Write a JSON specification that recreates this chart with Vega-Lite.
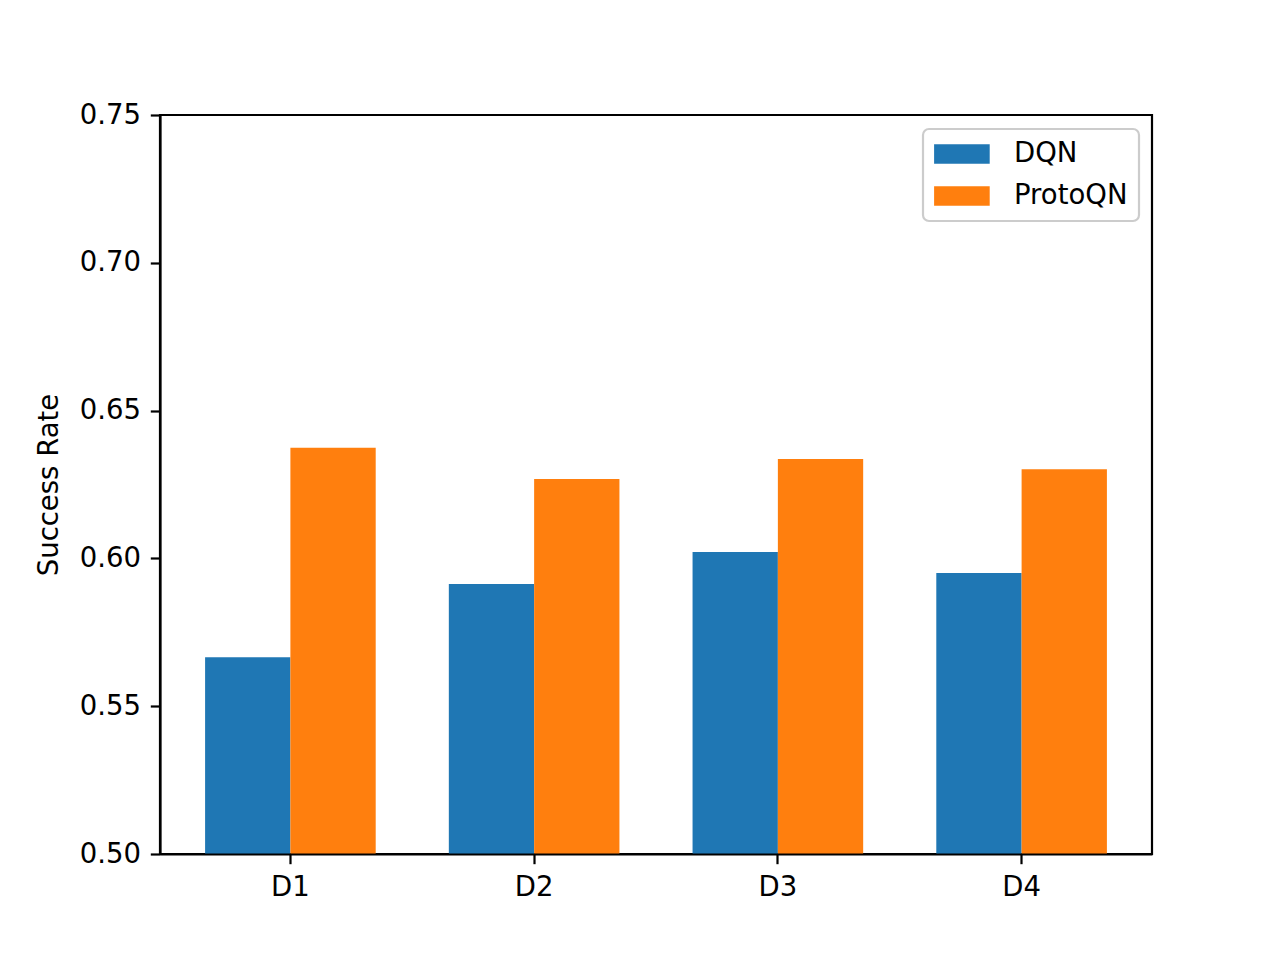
{
  "$schema": "https://vega.github.io/schema/vega-lite/v6.json",
  "width": 992,
  "height": 739,
  "autosize": {"type": "none"},
  "padding": {"left": 160, "top": 115, "right": 128, "bottom": 106},
  "background": "white",
  "config": {
    "font": "DejaVu Sans",
    "view": {"stroke": "black", "strokeWidth": 2.2},
    "axis": {
      "labelFont": "DejaVu Sans",
      "labelFontSize": 27.5,
      "labelColor": "black",
      "titleFont": "DejaVu Sans",
      "titleFontSize": 27.5,
      "titleFontWeight": "normal",
      "titleColor": "black",
      "tickColor": "black",
      "tickWidth": 2.2,
      "tickSize": 9.7,
      "labelPadding": 9.7,
      "domainColor": "black",
      "domainWidth": 2.2,
      "grid": false
    }
  },
  "data": {
    "values": [
      {"env": "D1", "method": "DQN", "rate": 0.5666},
      {"env": "D1", "method": "ProtoQN", "rate": 0.6374},
      {"env": "D2", "method": "DQN", "rate": 0.5913},
      {"env": "D2", "method": "ProtoQN", "rate": 0.6269},
      {"env": "D3", "method": "DQN", "rate": 0.6022},
      {"env": "D3", "method": "ProtoQN", "rate": 0.6336},
      {"env": "D4", "method": "DQN", "rate": 0.5951},
      {"env": "D4", "method": "ProtoQN", "rate": 0.6302}
    ]
  },
  "mark": {"type": "bar", "clip": true},
  "encoding": {
    "x": {
      "field": "env",
      "type": "nominal",
      "scale": {"paddingInner": 0.3, "paddingOuter": 0.185},
      "axis": {"title": null, "labelAngle": 0, "zindex": 1}
    },
    "xOffset": {"field": "method", "type": "nominal", "scale": {"padding": 0}},
    "y": {
      "field": "rate",
      "type": "quantitative",
      "scale": {"domain": [0.5, 0.75], "zero": false, "nice": false},
      "axis": {
        "title": "Success Rate",
        "values": [0.5, 0.55, 0.6, 0.65, 0.7, 0.75],
        "format": ".2f",
        "titlePadding": 16,
        "zindex": 1
      }
    },
    "y2": {"datum": 0.5},
    "color": {
      "field": "method",
      "type": "nominal",
      "scale": {"domain": ["DQN", "ProtoQN"], "range": ["#1f77b4", "#ff7f0e"]},
      "legend": {
        "title": null,
        "orient": "none",
        "legendX": 763,
        "legendY": 14,
        "symbolType": "M-1,-0.7H3V0.7H-1Z",
        "symbolSize": 773,
        "symbolOpacity": 1,
        "symbolStrokeWidth": 0,
        "labelFont": "DejaVu Sans",
        "labelFontSize": 27.5,
        "labelColor": "black",
        "labelOffset": 52,
        "rowPadding": 14,
        "padding": 11,
        "strokeColor": "#cccccc",
        "cornerRadius": 6,
        "fillColor": "white",
        "encode": {"legend": {"update": {"strokeWidth": {"value": 2.2}}}}
      }
    }
  }
}
